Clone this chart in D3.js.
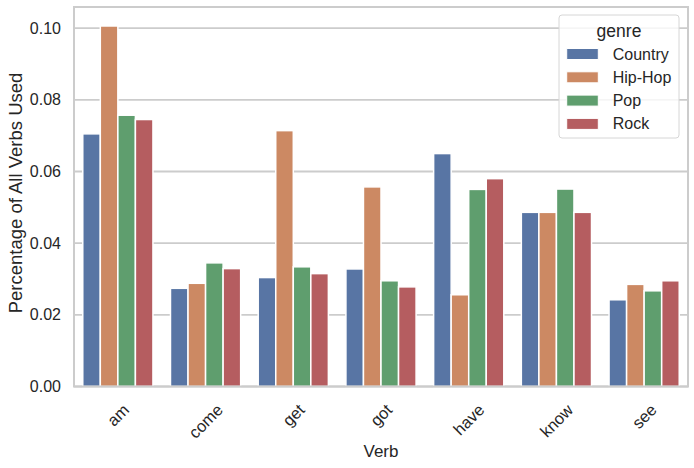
<!DOCTYPE html>
<html>
<head>
<meta charset="utf-8">
<script src="https://cdn.jsdelivr.net/npm/d3@7"></script>
<style>
  body { margin: 0; background: #fff; }
  text { font-family: "Liberation Sans", Arial, sans-serif; fill: #262626; }
</style>
</head>
<body>
<svg id="chart" width="694" height="468"></svg>
<script>
const verbs = ['am', 'come', 'get', 'got', 'have', 'know', 'see'];
const genres = ['Country', 'Hip-Hop', 'Pop', 'Rock'];
const country = [0.0705, 0.0274, 0.0304, 0.0328, 0.0650, 0.0486, 0.0242];
const hipHop = [0.1006, 0.0288, 0.0714, 0.0557, 0.0256, 0.0486, 0.0285];
const pop = [0.0757, 0.0345, 0.0334, 0.0295, 0.0550, 0.0551, 0.0267];
const rock = [0.0745, 0.0329, 0.0315, 0.0278, 0.0580, 0.0486, 0.0295];
const yTicks = [0.00, 0.02, 0.04, 0.06, 0.08, 0.10];
const colors = ['#5875a4', '#cc8963', '#5f9e6e', '#b55d60'];

const series = [country, hipHop, pop, rock];
const svg = d3.select('#chart');
const margin = {left: 74, right: 6, top: 7, bottom: 81.5};
const width = 694 - margin.left - margin.right;
const height = 468 - margin.top - margin.bottom;

const x = d3.scaleBand().domain(verbs).range([0, width]).paddingInner(0).paddingOuter(0);
const xSub = d3.scaleBand().domain(genres).range([x.bandwidth() * 0.1, x.bandwidth() * 0.9]);
const y = d3.scaleLinear().domain([0, 0.1059]).range([height, 0]);

const g = svg.append('g').attr('transform', `translate(${margin.left},${margin.top})`);

// grid
g.append('g').selectAll('line').data(yTicks).enter().append('line')
    .attr('x1', 0).attr('x2', width)
    .attr('y1', (d) => y(d)).attr('y2', (d) => y(d))
    .style('stroke', '#cccccc').style('stroke-width', 1.8);

// bars
const rows = [];
verbs.forEach((v, i) => {
  genres.forEach((gn, j) => {
    rows.push({verb: v, genre: gn, value: series[j][i], color: colors[j]});
  });
});
g.append('g').selectAll('rect').data(rows).enter().append('rect')
    .attr('x', (d) => x(d.verb) + xSub(d.genre))
    .attr('width', xSub.bandwidth())
    .attr('y', (d) => y(d.value))
    .attr('height', (d) => y(0) - y(d.value))
    .attr('fill', (d) => d.color)
    .style('stroke', '#ffffff').style('stroke-width', 1.5);

// frame
g.append('rect').attr('x', 0).attr('y', 0).attr('width', width).attr('height', height)
    .attr('fill', 'none').style('stroke', '#cccccc').style('stroke-width', 2);

// y ticks
const yAxis = g.append('g');
yAxis.selectAll('text').data(yTicks).enter().append('text')
    .attr('x', -13).attr('y', (d) => y(d))
    .attr('text-anchor', 'end').attr('dominant-baseline', 'central')
    .style('font-size', '16px')
    .text((d) => d3.format('.2f')(d));

// x ticks rotated 45 deg, bbox top at fixed pad
const xAxis = g.append('g');
verbs.forEach((v) => {
  const cx = x(v) + x.bandwidth() / 2;
  const t = xAxis.append('text')
      .attr('text-anchor', 'middle').attr('dominant-baseline', 'central')
      .style('font-size', '16.5px').text(v);
  const w = t.node().getComputedTextLength();
  const h = 12;
  const half = (w + h) * Math.SQRT1_2 / 2;
  const cy = height + 16 + half;
  t.attr('transform', `translate(${cx},${cy}) rotate(-45)`);
});

// axis labels
svg.append('text').attr('x', margin.left + width / 2).attr('y', 451.5)
    .attr('text-anchor', 'middle').attr('dominant-baseline', 'central')
    .style('font-size', '17px').text('Verb');
svg.append('text')
    .attr('transform', 'translate(15,193) rotate(-90)')
    .attr('text-anchor', 'middle').attr('dominant-baseline', 'central')
    .style('font-size', '18.5px').text('Percentage of All Verbs Used');

// legend
const legend = svg.append('g').attr('transform', 'translate(559,15)');
legend.append('rect').attr('width', 120).attr('height', 123).attr('rx', 3)
    .attr('fill', 'rgba(255,255,255,0.8)').style('stroke', '#d6d6d6').style('stroke-width', 1);
legend.append('text').attr('x', 60).attr('y', 16).attr('text-anchor', 'middle')
    .attr('dominant-baseline', 'central').style('font-size', '17.5px').text('genre');
genres.forEach((gn, j) => {
  const ly = 39 + j * 23.3;
  legend.append('rect').attr('x', 7.7).attr('y', ly - 5.5).attr('width', 31.6).attr('height', 11)
      .attr('fill', colors[j]).style('stroke', '#ffffff').style('stroke-width', 1);
  legend.append('text').attr('x', 53.7).attr('y', ly).attr('dominant-baseline', 'central')
      .style('font-size', '16px').text(gn);
});
</script>
</body>
</html>
